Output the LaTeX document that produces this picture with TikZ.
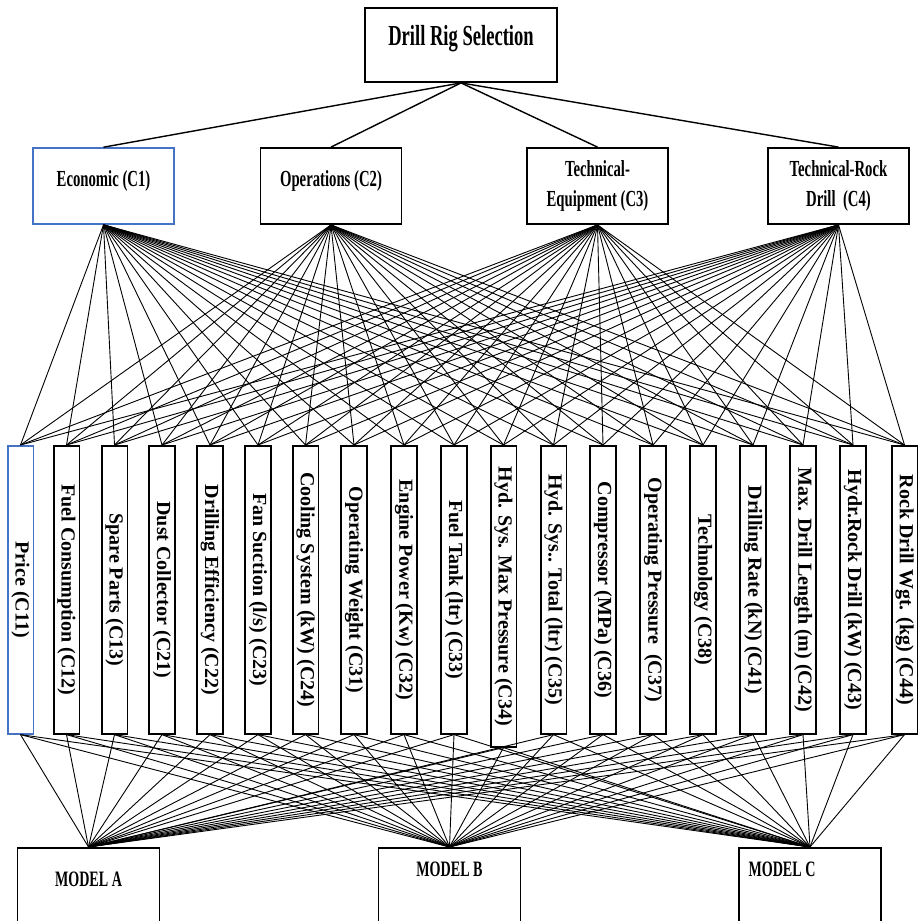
\documentclass[tikz,border=0pt]{standalone}
\usepackage{fontspec}
\setmainfont{Liberation Serif}
\newfontfamily\narrowfont[FakeStretch=0.64]{Liberation Serif}

\definecolor{boxblue}{RGB}{68,114,196}

\tikzset{
  goalbox/.style={draw, line width=0.9pt, minimum width=96pt, minimum height=37pt,
    inner sep=0pt, text height=7pt, text depth=7pt,
    font=\narrowfont\fontsize{14.5}{17}\selectfont\bfseries},
  critbox/.style={draw, line width=0.9pt, minimum width=70.5pt, minimum height=38pt,
    inner sep=0pt, align=center,
    font=\narrowfont\fontsize{11.5}{15}\selectfont\bfseries},
  oneline/.style={text height=6pt, text depth=6pt},
  subbox/.style={draw, line width=0.8pt, rotate=-90, anchor=west,
    minimum width=144pt, minimum height=12.8pt, inner sep=0pt,
    font=\fontsize{10}{12}\selectfont\bfseries},
  modelbox/.style={draw, line width=0.8pt, anchor=north, minimum width=71pt,
    inner sep=0pt, text depth=40pt,
    font=\narrowfont\fontsize{11}{13}\selectfont\bfseries},
  bluebox/.style={draw=boxblue, line width=0.8pt},
  link/.style={line width=0.45pt},
  toplink/.style={line width=0.7pt}
}

\begin{document}
\begin{tikzpicture}[x=0.5pt, y=-0.5pt]
  % picture is laid out in pixels of the 917x921 sheet
  \useasboundingbox (0,0) rectangle (917,921);

  % goal
  \node[goalbox] (goal) at (461,45) {Drill Rig Selection};

  % main criteria
  \node[critbox, oneline, bluebox] (c1) at (103.5,186) {Economic (C1)};
  \node[critbox, oneline] (c2) at (331,186) {Operations (C2)};
  \node[critbox] (c3) at (597.5,186) {Technical-\\Equipment (C3)};
  \node[critbox] (c4) at (838.5,186) {Technical-Rock\\Drill\ \ (C4)};

  % sub-criteria (text runs downwards)
  \node[subbox, bluebox] (s1) at (20.5,445) {Price (C11)};
  \node[subbox] (s2)  at (66.5,445)  {Fuel Consumption (C12)};
  \node[subbox] (s3)  at (114.5,445) {Spare Parts (C13)};
  \node[subbox] (s4)  at (162,445)   {Dust Collector (C21)};
  \node[subbox] (s5)  at (210,445)   {Drilling Efficiency (C22)};
  \node[subbox] (s6)  at (258,445)   {Fan Suction (l/s) (C23)};
  \node[subbox] (s7)  at (305.5,445) {Cooling System (kW) (C24)};
  \node[subbox] (s8)  at (354,445)   {Operating Weight (C31)};
  \node[subbox] (s9)  at (404,445)   {Engine Power (Kw) (C32)};
  \node[subbox] (s10) at (454,445)   {Fuel Tank (ltr) (C33)};
  \node[subbox, minimum width=150.5pt] (s11) at (503.5,445) {Hyd. Sys. Max Pressure (C34)};
  \node[subbox] (s12) at (553.5,445) {Hyd. Sys.. Total (ltr) (C35)};
  \node[subbox] (s13) at (603,445)   {Compressor (MPa) (C36)};
  \node[subbox] (s14) at (653,445)   {Operating Pressure\ \ (C37)};
  \node[subbox] (s15) at (703,445)   {Technology (C38)};
  \node[subbox] (s16) at (753,445)   {Drilling Rate (kN) (C41)};
  \node[subbox] (s17) at (803,445)   {Max. Drill Length (m) (C42)};
  \node[subbox] (s18) at (853,445)   {Hydr.Rock Drill (kW) (C43)};
  \node[subbox] (s19) at (904.5,445) {Rock Drill Wgt. (kg) (C44)};

  % alternatives
  \node[modelbox, text height=19.5pt] (mA) at (88.5,847) {MODEL A};
  \node[modelbox, text height=14.5pt] (mB) at (449.5,847) {MODEL B};
  \node[modelbox, text height=14.5pt] (mC) at (810,847) {MODEL C\hspace*{28pt}};

  % goal to criteria
  \foreach \c in {c1,c2,c3,c4}
    \draw[toplink] (goal.south) -- (\c.north);

  % every criterion to every sub-criterion
  \foreach \c in {c1,c2,c3,c4}
    \foreach \s in {1,...,19}
      \draw[link] (\c.south) -- (s\s.west);

  % every sub-criterion to every alternative
  \foreach \s in {1,...,19}
    \foreach \m in {mA,mB,mC}
      \draw[link] (s\s.east) -- (\m.north);

\end{tikzpicture}
\end{document}
